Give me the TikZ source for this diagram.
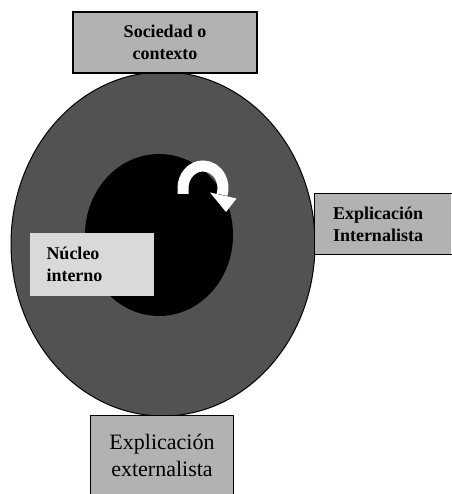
\documentclass[tikz,border=0pt]{standalone}
\usepackage{fontspec}
\setmainfont{Liberation Serif}
\usetikzlibrary{shapes.geometric}
\begin{document}
\begin{tikzpicture}[x=1pt,y=1pt,
  boxfill/.style={fill=black!30, draw=black, line width=1.2pt, inner sep=0pt},
  boldtxt/.style={font=\bfseries\fontsize{18}{22}\selectfont},
  regtxt/.style={font=\fontsize{22}{27}\selectfont}]
\useasboundingbox (0,0) rectangle (451,494);
% outer ellipse (society) and inner core
\node[ellipse, fill=black!68, draw=black, line width=1pt, minimum width=304pt, minimum height=344pt, inner sep=0pt] (soc-area) at (163,250) {};
\node[ellipse, fill=black, minimum width=148pt, minimum height=162pt, inner sep=0pt] (core) at (159,259) {};
% curved white arrow
\draw[white, line width=11pt] (183,300) -- (183,306) arc[start angle=180, end angle=-18, x radius=20, y radius=22];
\fill[white] (210,301.5) -- (236.5,295.5) -- (226,282) -- cycle;
% top box
\node[boxfill, boldtxt, align=center, minimum width=184pt, minimum height=61pt] (soc) at (165,451.5) {Sociedad o\\contexto};
% right box
\node[boxfill, draw=none, boldtxt, align=left, text width=100pt, minimum width=136pt, minimum height=60pt, inner xsep=18pt] (intl) at (383,270) {Explicación\\Internalista};
\draw[line width=1.2pt] (intl.north east) -- (intl.north west) -- (intl.south west) -- (intl.south east);
% left box
\node[fill=black!15, boldtxt, align=left, text width=90pt, minimum width=123pt, minimum height=63pt, inner xsep=17pt, inner ysep=0pt] (nuc) at (91.5,229.5) {Núcleo\\interno};
% bottom box
\node[boxfill, draw=none, regtxt, align=center, minimum width=142pt, minimum height=78pt] (ext) at (162,39) {Explicación\\externalista};
\draw[line width=1.2pt] (ext.south west) -- (ext.north west) -- (ext.north east) -- (ext.south east);
\end{tikzpicture}
\end{document}
